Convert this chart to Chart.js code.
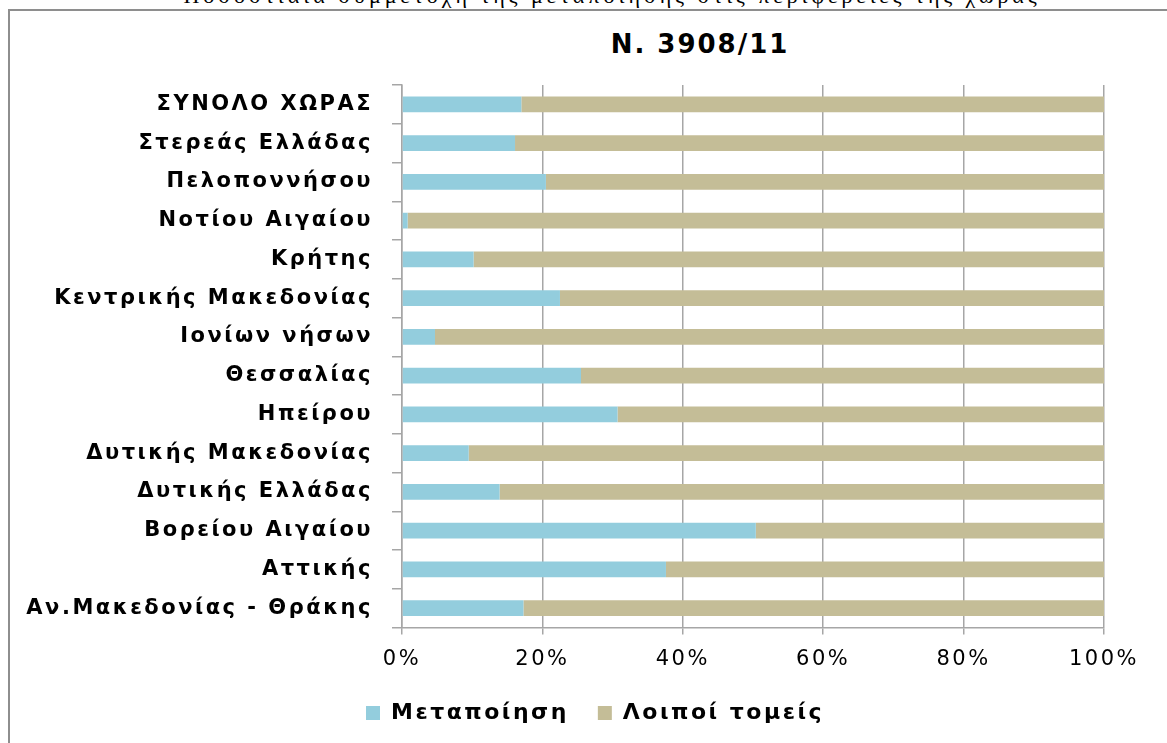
<!DOCTYPE html>
<html>
<head>
<meta charset="utf-8">
<script src="https://cdn.jsdelivr.net/npm/chart.js@4/dist/chart.umd.min.js"></script>
<style>
  html, body { margin: 0; padding: 0; background: #fff; }
  body { width: 1167px; height: 743px; position: relative; overflow: hidden; }
  #frame { position: absolute; left: 8px; top: 9px; width: 1180px; height: 760px;
           border-left: 2px solid #8e8e8e; border-top: 2px solid #8e8e8e; }
  #caption { position: absolute; left: 0; width: 1224px; top: -17px; text-align: center;
             font-family: "Liberation Serif", serif; font-size: 22px; letter-spacing: 4px; color: #000; }
  #title { position: absolute; left: 500px; width: 400px; top: 29px; text-align: center;
           font-family: "DejaVu Sans", sans-serif; font-weight: bold; font-size: 26px; letter-spacing: 2px; color: #000; }
  #wrap { position: absolute; left: 0; top: 0; width: 1167px; height: 743px; }
</style>
</head>
<body>
<div id="caption">Ποσοστιαία συμμετοχή της μεταποίησης στις περιφέρειες της χώρας</div>
<div id="frame"></div>
<div id="title">N. 3908/11</div>
<div id="wrap"><canvas id="graf"></canvas></div>
<script>
// Περιφέρειες (από πάνω προς τα κάτω)
const perifereies = [
    'ΣΥΝΟΛΟ ΧΩΡΑΣ',
    'Στερεάς Ελλάδας',
    'Πελοποννήσου',
    'Νοτίου Αιγαίου',
    'Κρήτης',
    'Κεντρικής Μακεδονίας',
    'Ιονίων νήσων',
    'Θεσσαλίας',
    'Ηπείρου',
    'Δυτικής Μακεδονίας',
    'Δυτικής Ελλάδας',
    'Βορείου Αιγαίου',
    'Αττικής',
    'Αν.Μακεδονίας - Θράκης'
]

// Ποσοστά (%)
const metapoiisi = [17.0, 16.1, 20.5, 0.8, 10.2, 22.5, 4.7, 25.5, 30.7, 9.5, 13.9, 50.4, 37.6, 17.3]
const loipoi     = [83.0, 83.9, 79.5, 99.2, 89.8, 77.5, 95.3, 74.5, 69.3, 90.5, 86.1, 49.6, 62.4, 82.7]

const xTicks = [0, 20, 40, 60, 80, 100]

const gridGray = '#a6a6a6'

// το κείμενο του πρωτοτύπου είναι αραιό, βάζουμε λίγο letterSpacing
// και μετακινούμε το υπόμνημα λίγο δεξιά όπως στο πρωτότυπο
const aralio = {
    id: 'aralio',
    beforeLayout: chart => { chart.ctx.letterSpacing = '2.5px' },
    afterLayout: chart => {
        chart.legend.left += 43
        chart.legend.right += 43
    },
    beforeDraw: chart => { chart.ctx.letterSpacing = '2.5px' }
}

const ctx = document.getElementById('graf').getContext('2d')
new Chart(ctx, {
    type: 'bar',
    data: {
        labels: perifereies,
        datasets: [
            { label: 'Μεταποίηση', data: metapoiisi, backgroundColor: '#93CDDD', barPercentage: 0.41, categoryPercentage: 1 },
            { label: 'Λοιποί τομείς', data: loipoi, backgroundColor: '#C4BD97', barPercentage: 0.41, categoryPercentage: 1 }
        ]
    },
    plugins: [aralio],
    options: {
        indexAxis: 'y',
        responsive: true,
        maintainAspectRatio: false,
        animation: false,
        layout: { padding: { top: 85, bottom: 9, left: 0, right: 63 } },
        plugins: {
            title: { display: false },
            tooltip: { enabled: false },
            legend: {
                position: 'bottom',
                labels: {
                    boxWidth: 14,
                    boxHeight: 14,
                    padding: 29,
                    color: '#000',
                    font: { family: 'DejaVu Sans', size: 22, weight: 'bold' }
                }
            }
        },
        scales: {
            x: {
                stacked: true,
                min: 0,
                max: 100,
                afterBuildTicks: axis => { axis.ticks = xTicks.map(v => ({ value: v })) },
                afterFit: axis => { axis.height = 45.5 },
                grid: { color: gridGray, lineWidth: 1.5, tickLength: 7 },
                border: { color: gridGray, width: 1.5 },
                ticks: {
                    padding: 12,
                    color: '#000',
                    font: { family: 'DejaVu Sans', size: 21 },
                    callback: v => v + '%'
                }
            },
            y: {
                stacked: true,
                afterFit: axis => { axis.width = 402 },
                grid: { drawOnChartArea: false, color: gridGray, lineWidth: 1.5, tickLength: 10 },
                border: { color: gridGray, width: 1.5 },
                ticks: {
                    padding: 19,
                    color: '#000',
                    autoSkip: false,
                    font: { family: 'DejaVu Sans', size: 21, weight: 'bold' }
                }
            }
        }
    }
})
</script>
</body>
</html>
